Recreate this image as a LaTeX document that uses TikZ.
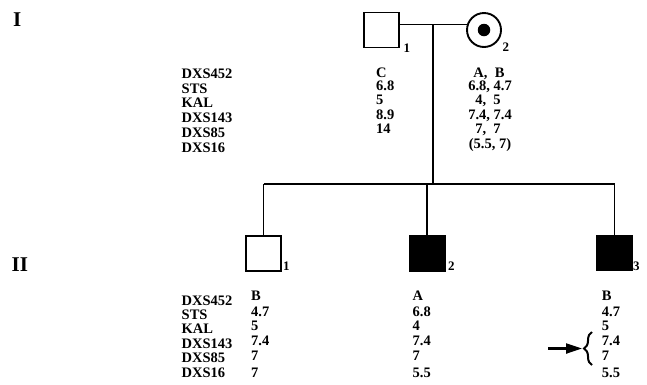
\documentclass[tikz,border=0pt]{standalone}
\usepackage{fontspec}
\setmainfont{Liberation Serif}
\usetikzlibrary{arrows.meta,decorations.pathreplacing,calc}
\tikzset{
  ln/.style={line width=1.9pt},
  sq/.style={draw,line width=1.9pt,minimum width=35pt,minimum height=35pt,inner sep=0pt},
  aff/.style={sq,fill=black},
  txt/.style={font=\bfseries\fontsize{14.5}{14.5}\selectfont,inner sep=0pt,anchor=base west},
  ctx/.style={txt,anchor=base},
  num/.style={font=\bfseries\fontsize{13}{13}\selectfont,inner sep=0pt,anchor=base west},
  gen/.style={font=\bfseries\fontsize{21}{21}\selectfont,inner sep=0pt,anchor=base west}
}
\begin{document}
\begin{tikzpicture}[x=1pt,y=-1pt]
\useasboundingbox (0,0) rectangle (647,384);
% generation labels
\node[gen] (gI) at (13,26) {I};
\node[gen] (gII) at (11.5,271.5) {II};
% generation I
\node[sq] (f) at (381.3,30) {};
\node[num] (fn) at (403.5,52) {1};
\node[draw,circle,line width=1.9pt,minimum size=34pt,inner sep=0pt] (m) at (484,30) {};
\node[circle,fill=black,minimum size=12.5pt,inner sep=0pt] (md) at (484,30) {};
\node[num] (mn) at (502.5,51.5) {2};
\coordinate (mj) at (433.3,24.5);
\draw[ln] (f.east |- mj) -- (mj) -- ($(m.center)+(-16.2,-5.5)$);
\coordinate (sj) at (433.3,184);
\draw[ln] (mj) -- (sj);
% sibship
\coordinate (sl) at (263.5,184);
\coordinate (sr) at (614.5,184);
\draw[ln] (sl) -- (sr);
% generation II
\node[sq] (c1) at (263.8,253.5) {};
\node[num] (c1n) at (283,270.5) {1};
\node[aff] (c2) at (427.3,253.3) {};
\node[num] (c2n) at (448,270) {2};
\node[aff] (c3) at (614.7,253) {};
\node[num] (c3n) at (633,270.5) {3};
\draw[ln] (sl) -- (sl |- c1.north);
\draw[ln] (c2.north |- sl) -- (c2.north);
\draw[ln] (sr) -- (sr |- c3.north);
% marker labels generation I
\node[txt] (a1) at (181.5,78.3) {DXS452};
\node[txt] (a2) at (181.5,93.1) {STS};
\node[txt] (a3) at (181.5,107.9) {KAL};
\node[txt] (a4) at (181.5,122.7) {DXS143};
\node[txt] (a5) at (181.5,137.5) {DXS85};
\node[txt] (a6) at (181.5,152.3) {DXS16};
% father values
\node[txt] (fv1) at (376,77.3) {C};
\node[txt] (fv2) at (376,90.9) {6.8};
\node[txt] (fv3) at (376,104.8) {5};
\node[txt] (fv4) at (376,119) {8.9};
\node[txt] (fv5) at (376,133.2) {14};
% mother values
\node[ctx] (mv1) at (489,77.3) {A,\ \ B};
\node[ctx] (mv2) at (490,90.9) {6.8, 4.7};
\node[ctx] (mv3) at (488,104.8) {4,\ \ 5};
\node[ctx] (mv4) at (490,119) {7.4, 7.4};
\node[ctx] (mv5) at (488,133.2) {7,\ \ 7};
\node[ctx] (mv6) at (490,148) {(5.5, 7)};
% marker labels generation II
\node[txt] (b1) at (181.5,305) {DXS452};
\node[txt] (b2) at (181.5,319.4) {STS};
\node[txt] (b3) at (181.5,333.8) {KAL};
\node[txt] (b4) at (181.5,348.2) {DXS143};
\node[txt] (b5) at (181.5,362.6) {DXS85};
\node[txt] (b6) at (181.5,377.2) {DXS16};
% child 1
\node[txt] (p1) at (251,300.7) {B};
\node[txt] (p2) at (251,316) {4.7};
\node[txt] (p3) at (251,330.5) {5};
\node[txt] (p4) at (251,345.3) {7.4};
\node[txt] (p5) at (251,360) {7};
\node[txt] (p6) at (251,377) {7};
% child 2
\node[txt] (q1) at (412.5,300.7) {A};
\node[txt] (q2) at (412.5,316) {6.8};
\node[txt] (q3) at (412.5,330.5) {4};
\node[txt] (q4) at (412.5,345.3) {7.4};
\node[txt] (q5) at (412.5,360) {7};
\node[txt] (q6) at (412.5,377) {5.5};
% child 3
\node[txt] (r1) at (601.7,300.7) {B};
\node[txt] (r2) at (601.7,316) {4.7};
\node[txt] (r3) at (601.7,330.5) {5};
\node[txt] (r4) at (601.7,345.3) {7.4};
\node[txt] (r5) at (601.7,360) {7};
\node[txt] (r6) at (601.7,377) {5.5};
% brace and arrow
\coordinate (bb) at (592,365);
\coordinate (bt) at (592,332);
\draw[line width=2pt,decorate,decoration={brace,amplitude=8pt}] (bb) -- (bt);
\coordinate (as) at (548,348.5);
\coordinate (at) at (582,348.5);
\draw[line width=2.2pt,-{Triangle[length=16pt,width=10pt]}] (as) -- (at);
\end{tikzpicture}
\end{document}
